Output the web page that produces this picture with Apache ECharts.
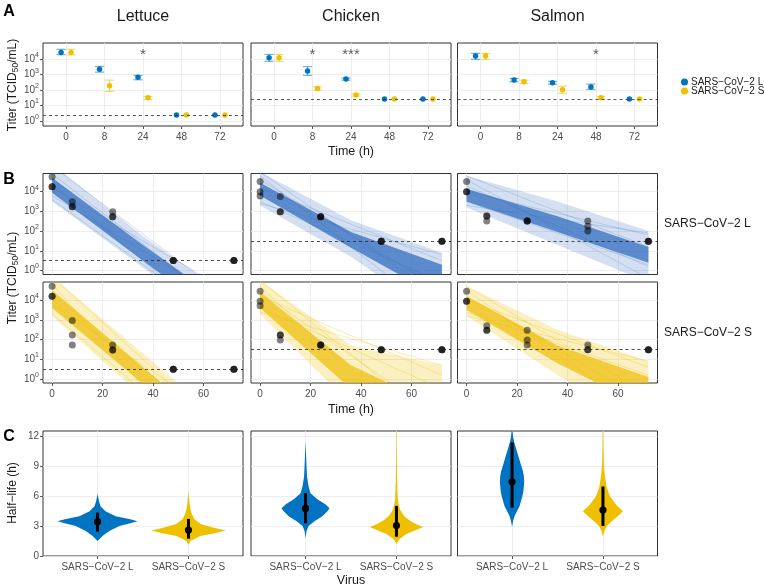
<!DOCTYPE html>
<html><head><meta charset="utf-8">
<script src="https://cdn.jsdelivr.net/npm/echarts@6/dist/echarts.min.js"></script>
<style>html,body{margin:0;padding:0;background:#fff}#c{width:764px;height:588px}</style>
</head><body><div id="c"></div>
<script>
const FONT = 'Liberation Sans, Arial, Helvetica, sans-serif';
const foods = ['Lettuce', 'Chicken', 'Salmon'];
const variants = ['SARS−CoV−2 L', 'SARS−CoV−2 S'];
const timeCats = ['0', '8', '24', '48', '72'];
const logTicks = [0, 1, 2, 3, 4];
const bXTicks = [0, 20, 40, 60];
const cYTicks = [0, 3, 6, 9, 12];

// ---------- Panel A: mean log10 titer with error limits ----------
const aLettuceL_mean = [4.44, 3.34, 2.82, 0.37, 0.37];
const aLettuceL_lo   = [4.29, 3.16, 2.66, 0.37, 0.37];
const aLettuceL_hi   = [4.64, 3.53, 2.95, 0.37, 0.37];
const aLettuceS_mean = [4.44, 2.27, 1.49, 0.37, 0.37];
const aLettuceS_lo   = [4.27, 1.91, 1.39, 0.37, 0.37];
const aLettuceS_hi   = [4.64, 2.64, 1.58, 0.37, 0.37];
const aChickenL_mean = [4.09, 3.23, 2.71, 1.41, 1.41];
const aChickenL_lo   = [3.86, 2.95, 2.64, 1.41, 1.41];
const aChickenL_hi   = [4.31, 3.51, 2.78, 1.41, 1.41];
const aChickenS_mean = [4.09, 2.10, 1.67, 1.41, 1.41];
const aChickenS_lo   = [3.86, 1.99, 1.60, 1.41, 1.41];
const aChickenS_hi   = [4.31, 2.21, 1.74, 1.41, 1.41];
const aSalmonL_mean  = [4.20, 2.64, 2.47, 2.19, 1.41];
const aSalmonL_lo    = [3.99, 2.53, 2.38, 2.04, 1.41];
const aSalmonL_hi    = [4.38, 2.75, 2.56, 2.38, 1.41];
const aSalmonS_mean  = [4.20, 2.53, 2.01, 1.49, 1.41];
const aSalmonS_lo    = [3.99, 2.43, 1.78, 1.42, 1.41];
const aSalmonS_hi    = [4.38, 2.64, 2.25, 1.58, 1.41];
const aLOD = [0.37, 1.41, 1.41];
const aStarsLettuce = [[2, '*']];
const aStarsChicken = [[1, '*'], [2, '***']];
const aStarsSalmon  = [[3, '*']];

// ---------- Panel B: observed replicate titers (log10) ----------
const bTimes = [0, 0, 0, 8, 8, 8, 24, 24, 24, 48, 48, 48, 72, 72, 72];
const bLettuceL = [4.76, 4.25, 4.25, 3.49, 3.24, 3.24, 2.98, 2.73, 2.73, 0.51, 0.51, 0.51, 0.51, 0.51, 0.51];
const bLettuceS = [4.70, 4.20, 4.20, 2.97, 2.23, 1.73, 1.73, 1.47, 1.47, 0.50, 0.50, 0.50, 0.50, 0.50, 0.50];
const bChickenL = [4.51, 4.00, 3.78, 3.75, 2.98, 2.98, 2.73, 2.73, 2.73, 1.49, 1.49, 1.49, 1.49, 1.49, 1.49];
const bChickenS = [4.45, 3.95, 3.72, 2.23, 2.23, 1.98, 1.73, 1.73, 1.73, 1.48, 1.48, 1.48, 1.48, 1.48, 1.48];
const bSalmonL  = [4.51, 4.00, 4.00, 2.76, 2.76, 2.51, 2.51, 2.51, 2.51, 2.51, 2.25, 2.00, 1.49, 1.49, 1.49];
const bSalmonS  = [4.45, 3.95, 3.95, 2.70, 2.47, 2.47, 2.47, 1.98, 1.73, 1.73, 1.48, 1.48, 1.48, 1.48, 1.48];
const bLOD = [0.5, 1.49, 1.49];
// fitted decay fans: envelope (outer) and dense core, at times bandTimes
const bandTimes = [0, 36, 72];
const fanLettuceL = { outerLo: [3.5, 0.15, -3.4], outerHi: [5.4, 1.75, -1.5], coreLo: [3.95, 0.5, -2.9], coreHi: [4.7, 1.3, -2.0] };
const fanChickenL = { outerLo: [3.3, 0.7, -2.5], outerHi: [5.0, 2.55, 0.9], coreLo: [3.8, 1.15, -1.4], coreHi: [4.45, 1.95, 0.3] };
const fanSalmonL  = { outerLo: [3.2, 1.3, -0.6], outerHi: [4.8, 3.5, 2.0], coreLo: [3.5, 1.95, 0.4], coreHi: [4.15, 2.75, 1.2] };
const fanLettuceS = { outerLo: [3.2, -0.9, -5.0], outerHi: [5.2, 1.3, -2.6], coreLo: [3.6, -0.25, -4.1], coreHi: [4.5, 0.6, -3.3] };
const fanChickenS = { outerLo: [3.3, -1.3, -4.5], outerHi: [5.0, 1.7, 0.7], coreLo: [3.6, -0.5, -3.2], coreHi: [4.4, 0.7, -1.5] };
const fanSalmonS  = { outerLo: [3.2, 0.2, -2.5], outerHi: [4.7, 2.5, 0.9], coreLo: [3.5, 0.8, -1.5], coreHi: [4.2, 1.7, 0.1] };
// a few individual posterior draws visible at the fan edges: [log titer at t=0, at t=72]
const drawsLettuceL = [[5.3, -1.6], [3.6, -3.0], [4.9, -2.2], [3.8, -1.8], [4.4, -3.4], [4.2, -1.2]];
const drawsChickenL = [[5.0, -1.4], [3.4, 0.8], [4.8, -2.4], [3.5, -0.6], [4.2, 0.5], [4.6, -1.0]];
const drawsSalmonL  = [[4.8, 1.2], [3.3, 1.9], [4.6, -0.4], [3.5, 0.3], [4.0, 1.8], [4.3, 0.2]];
const drawsLettuceS = [[5.2, -3.2], [3.3, -4.5], [4.8, -5.5], [3.8, -2.4], [4.4, -4.0], [4.0, -3.0]];
const drawsChickenS = [[5.0, -2.5], [3.4, 0.7], [4.7, -4.0], [3.6, -0.5], [4.2, 0.2], [4.4, -2.0]];
const drawsSalmonS  = [[4.7, -0.8], [3.2, 0.9], [4.5, -2.0], [3.4, 0.2], [4.0, 0.6], [4.2, -1.2]];

// ---------- Panel C: half-life posterior densities ----------
const vLettuceL_y = [1.5, 2.0, 2.5, 3.0, 3.3, 3.5, 3.7, 4.0, 4.5, 5.0, 5.5, 6.0, 6.3];
const vLettuceL_w = [0, 0.054, 0.13, 0.24, 0.36, 0.44, 0.36, 0.2, 0.087, 0.033, 0.016, 0.005, 0];
const vLettuceS_y = [1.1, 1.5, 2.0, 2.3, 2.55, 2.8, 3.2, 3.7, 4.3, 5.0, 6.0, 6.5];
const vLettuceS_w = [0, 0.022, 0.13, 0.30, 0.41, 0.29, 0.14, 0.065, 0.033, 0.016, 0.005, 0];
const vChickenL_y = [1.8, 2.5, 3.0, 3.5, 4.0, 4.5, 4.8, 5.2, 5.7, 6.3, 7.0, 8.0, 9.0, 10.0, 11.5];
const vChickenL_w = [0, 0.011, 0.033, 0.098, 0.185, 0.24, 0.264, 0.217, 0.13, 0.054, 0.033, 0.016, 0.011, 0.0065, 0];
const vChickenS_y = [1.2, 1.7, 2.2, 2.6, 2.9, 3.2, 3.6, 4.0, 4.6, 5.2, 6.0, 7.5, 9.0, 11.0, 12.5];
const vChickenS_w = [0, 0.033, 0.109, 0.217, 0.293, 0.217, 0.141, 0.087, 0.043, 0.022, 0.013, 0.0076, 0.0054, 0.0033, 0.002];
const vSalmonL_y = [2.9, 3.5, 4.0, 4.5, 5.0, 5.5, 6.0, 6.5, 7.0, 7.5, 8.0, 8.5, 9.0, 9.5, 10.0, 10.5, 11.0, 11.5, 12.0, 12.6];
const vSalmonL_w = [0, 0.011, 0.027, 0.054, 0.082, 0.098, 0.114, 0.125, 0.130, 0.134, 0.130, 0.120, 0.103, 0.087, 0.071, 0.054, 0.038, 0.022, 0.011, 0.005];
const vSalmonS_y = [1.9, 2.5, 3.0, 3.5, 4.0, 4.5, 5.1, 6.0, 7.0, 8.0, 9.0, 10.0, 11.0, 12.6];
const vSalmonS_w = [0, 0.016, 0.043, 0.098, 0.163, 0.221, 0.15, 0.076, 0.038, 0.022, 0.011, 0.0076, 0.0054, 0.0033];
// median and 95% interval of half-life
const hlMedian = { Lettuce: [3.45, 2.60], Chicken: [4.78, 3.05], Salmon: [7.45, 4.62] };
const hlLow    = { Lettuce: [2.45, 1.74], Chicken: [3.29, 1.94], Salmon: [4.85, 3.02] };
const hlHigh   = { Lettuce: [4.36, 3.72], Chicken: [6.31, 5.03], Salmon: [11.4, 6.97] };

// ---------- styling / layout ----------
const BLUE = '#0073C2', YEL = '#EFC000';
const colLeft = [43, 251, 457.5], colW = 200;
const aTop = 43, aH = 83, aYMin = -0.34, aYMax = 5.05;
const bTop = [173.5, 282], bH = 101, bYMin = -0.2, bYMax = 4.92;
const cTop = 431, cH = 125;
const dodge = 0.13;

const grids = [], xAxes = [], yAxes = [], series = [];
const labelBase = { color: '#4d4d4d', fontSize: 10, fontFamily: FONT };
const powRich = {
  b: { fontSize: 10, color: '#4d4d4d', fontFamily: FONT },
  s: { fontSize: 7, color: '#4d4d4d', fontFamily: FONT, padding: [0, 0, 8, 0] }
};
function addGrid(l, t, w, h) {
  grids.push({ left: l, top: t, width: w, height: h, show: true, borderColor: '#333', borderWidth: 1, outerBoundsMode: 'none', containLabel: false });
  return grids.length - 1;
}
function axisCfg(gi, min, max, ticks, fmt, showLabels, rich, margin) {
  const lab = { show: showLabels, customValues: ticks, formatter: fmt, margin: margin || 4, ...labelBase };
  if (rich) lab.rich = rich;
  return {
    type: 'value', gridIndex: gi, min: min, max: max,
    axisLine: { show: false, onZero: false },
    axisTick: { show: showLabels, length: 3, lineStyle: { color: '#333', width: 0.8 }, customValues: ticks },
    axisLabel: lab,
    splitLine: { show: true, lineStyle: { color: '#e8e8e8', width: 0.8 } },
    minorSplitLine: { show: false }
  };
}
const powFmt = v => '{b|10}{s|' + v + '}';

// ---------- Panel A ----------
const aData = [
  [[aLettuceL_mean, aLettuceL_lo, aLettuceL_hi], [aLettuceS_mean, aLettuceS_lo, aLettuceS_hi]],
  [[aChickenL_mean, aChickenL_lo, aChickenL_hi], [aChickenS_mean, aChickenS_lo, aChickenS_hi]],
  [[aSalmonL_mean, aSalmonL_lo, aSalmonL_hi], [aSalmonS_mean, aSalmonS_lo, aSalmonS_hi]]
];
const aStars = [aStarsLettuce, aStarsChicken, aStarsSalmon];
function renderErr(params, api) {
  const x = api.value(0), lo = api.value(1), hi = api.value(2);
  if (hi - lo < 1e-6) return null;
  const pLo = api.coord([x, lo]), pHi = api.coord([x, hi]);
  const hw = 4.6;
  const style = { stroke: api.visual('color'), lineWidth: 1.1, opacity: 0.6 };
  return { type: 'group', children: [
    { type: 'line', shape: { x1: pLo[0], y1: pLo[1], x2: pHi[0], y2: pHi[1] }, style: style },
    { type: 'line', shape: { x1: pLo[0] - hw, y1: pLo[1], x2: pLo[0] + hw, y2: pLo[1] }, style: style },
    { type: 'line', shape: { x1: pHi[0] - hw, y1: pHi[1], x2: pHi[0] + hw, y2: pHi[1] }, style: style }
  ]};
}
foods.forEach((f, fi) => {
  const gi = addGrid(colLeft[fi], aTop, colW, aH);
  xAxes.push(axisCfg(gi, -0.6, 4.6, [0, 1, 2, 3, 4], v => timeCats[Math.round(v)], true, null, 6));
  yAxes.push(axisCfg(gi, aYMin, aYMax, logTicks, powFmt, fi === 0, powRich, 4));
  [0, 1].forEach(vi => {
    const [m, lo, hi] = aData[fi][vi];
    const off = vi === 0 ? -dodge : dodge;
    const col = vi === 0 ? BLUE : YEL;
    series.push({
      type: 'custom', name: 'err' + fi + vi, xAxisIndex: gi, yAxisIndex: gi, clip: false,
      itemStyle: { color: col }, renderItem: renderErr, encode: { x: 0, y: [1, 2] },
      data: m.map((_, i) => [i + off, lo[i], hi[i]]), z: 2
    });
    series.push({
      type: 'scatter', name: variants[vi], xAxisIndex: gi, yAxisIndex: gi,
      symbol: 'circle', symbolSize: 5.5, itemStyle: { color: col, opacity: 1 },
      data: m.map((v, i) => [i + off, v]), z: 3,
      markLine: vi === 0 ? { silent: true, symbol: 'none', label: { show: false },
        lineStyle: { type: [3, 3], color: '#333', width: 0.8 }, data: [{ yAxis: aLOD[fi] }] } : undefined
    });
  });
  series.push({
    type: 'scatter', name: 'stars' + fi, xAxisIndex: gi, yAxisIndex: gi, symbolSize: 0,
    data: aStars[fi].map(s => ({ value: [s[0], 4.25], label: { formatter: s[1] } })),
    label: { show: true, position: 'inside', color: '#333', fontSize: 15, fontFamily: FONT }, z: 4
  });
});

// ---------- Panel B ----------
const bObs = [[bLettuceL, bChickenL, bSalmonL], [bLettuceS, bChickenS, bSalmonS]];
const bFans = [[fanLettuceL, fanChickenL, fanSalmonL], [fanLettuceS, fanChickenS, fanSalmonS]];
const bDraws = [[drawsLettuceL, drawsChickenL, drawsSalmonL], [drawsLettuceS, drawsChickenS, drawsSalmonS]];
function clipRect(params) {
  const cs = params.coordSys;
  return { type: 'rect', shape: { x: cs.x, y: cs.y, width: cs.width, height: cs.height } };
}
function fanRenderer(lo, hi, fill) {
  return function (params, api) {
    const pts = [];
    bandTimes.forEach((t, i) => pts.push(api.coord([t, lo[i]])));
    for (let i = bandTimes.length - 1; i >= 0; i--) pts.push(api.coord([bandTimes[i], hi[i]]));
    return { type: 'polygon', shape: { points: pts }, style: { fill: fill }, clipPath: clipRect(params) };
  };
}
function drawRenderer(stroke) {
  return function (params, api) {
    const p0 = api.coord([0, api.value(0)]), p1 = api.coord([72, api.value(1)]);
    return { type: 'line', shape: { x1: p0[0], y1: p0[1], x2: p1[0], y2: p1[1] },
      style: { stroke: stroke, lineWidth: 1 }, clipPath: clipRect(params) };
  };
}
[0, 1].forEach(ri => {
  foods.forEach((f, fi) => {
    const gi = addGrid(colLeft[fi], bTop[ri], colW, bH);
    xAxes.push(axisCfg(gi, -3.6, 75.6, bXTicks, v => String(v), ri === 1, null, 6));
    yAxes.push(axisCfg(gi, bYMin, bYMax, logTicks, powFmt, fi === 0, powRich, 4));
    const fan = bFans[ri][fi];
    const outerFill = ri === 0 ? 'rgba(60,115,195,0.22)' : 'rgba(239,192,0,0.24)';
    const coreFill = ri === 0 ? 'rgba(45,105,190,0.72)' : 'rgba(239,190,10,0.72)';
    const drawStroke = ri === 0 ? 'rgba(60,115,195,0.22)' : 'rgba(239,192,0,0.3)';
    series.push({ type: 'custom', name: 'fanO' + gi, xAxisIndex: gi, yAxisIndex: gi, clip: true,
      renderItem: fanRenderer(fan.outerLo, fan.outerHi, outerFill), data: [[0, fan.outerLo[0]]], z: 1, silent: true });
    series.push({ type: 'custom', name: 'draws' + gi, xAxisIndex: gi, yAxisIndex: gi, clip: true,
      renderItem: drawRenderer(drawStroke), data: bDraws[ri][fi], encode: { x: -1, y: [0, 1] }, z: 1, silent: true });
    series.push({ type: 'custom', name: 'fanC' + gi, xAxisIndex: gi, yAxisIndex: gi, clip: true,
      renderItem: fanRenderer(fan.coreLo, fan.coreHi, coreFill), data: [[0, fan.coreLo[0]]], z: 1, silent: true });
    series.push({
      type: 'scatter', name: 'obs' + gi, xAxisIndex: gi, yAxisIndex: gi, symbolSize: 7,
      itemStyle: { color: 'rgba(0,0,0,0.62)' }, z: 3,
      data: bTimes.map((t, i) => [t, bObs[ri][fi][i]]),
      markLine: { silent: true, symbol: 'none', label: { show: false },
        lineStyle: { type: [3, 3], color: '#222', width: 0.8 }, data: [{ yAxis: bLOD[fi] }] }
    });
  });
});

// ---------- Panel C ----------
const vData = {
  Lettuce: [[vLettuceL_y, vLettuceL_w], [vLettuceS_y, vLettuceS_w]],
  Chicken: [[vChickenL_y, vChickenL_w], [vChickenS_y, vChickenS_w]],
  Salmon:  [[vSalmonL_y, vSalmonL_w], [vSalmonS_y, vSalmonS_w]]
};
function violinRenderer(ys, ws, fill, med, lo, hi) {
  return function (params, api) {
    const x0 = api.value(0);
    const pts = [];
    ys.forEach((y, i) => pts.push(api.coord([x0 + ws[i], y])));
    for (let i = ys.length - 1; i >= 0; i--) pts.push(api.coord([x0 - ws[i], ys[i]]));
    const pm = api.coord([x0, med]), pl = api.coord([x0, lo]), ph = api.coord([x0, hi]);
    return { type: 'group', clipPath: clipRect(params), children: [
      { type: 'polygon', shape: { points: pts }, style: { fill: fill } },
      { type: 'line', shape: { x1: pl[0], y1: pl[1], x2: ph[0], y2: ph[1] }, style: { stroke: '#000', lineWidth: 3 } },
      { type: 'circle', shape: { cx: pm[0], cy: pm[1], r: 3.6 }, style: { fill: '#000' } }
    ]};
  };
}
foods.forEach((f, fi) => {
  const gi = addGrid(colLeft[fi], cTop, colW, cH);
  xAxes.push(axisCfg(gi, -0.6, 1.6, [0, 1], v => variants[Math.round(v)], true, null, 6));
  yAxes.push(axisCfg(gi, 0, 12.55, cYTicks, v => String(v), fi === 0, null, 4));
  [0, 1].forEach(vi => {
    const [ys, ws] = vData[f][vi];
    series.push({ type: 'custom', name: 'vio' + gi + vi, xAxisIndex: gi, yAxisIndex: gi, clip: true, silent: true,
      renderItem: violinRenderer(ys, ws, vi === 0 ? BLUE : YEL, hlMedian[f][vi], hlLow[f][vi], hlHigh[f][vi]),
      data: [[vi, hlMedian[f][vi]]], z: 2 });
  });
});

// ---------- titles / text ----------
function txt(x, y, text, size, opts) {
  return Object.assign({ type: 'text', x: x, y: y, silent: true,
    style: Object.assign({ text: text, fontSize: size, fontFamily: FONT, fill: '#1a1a1a', align: 'center', verticalAlign: 'middle' }, (opts && opts.style) || {}) },
    opts && opts.rotation !== undefined ? { rotation: opts.rotation } : {});
}
const titerRich = { a: { fontSize: 12, fontFamily: FONT, fill: '#1a1a1a' }, s: { fontSize: 8.5, fontFamily: FONT, fill: '#1a1a1a', padding: [6, 0, 0, 0] } };
const graphics = [
  txt(9, 12, 'A', 16, { style: { fontWeight: 'bold', fill: '#000' } }),
  txt(9, 180, 'B', 16, { style: { fontWeight: 'bold', fill: '#000' } }),
  txt(9, 437, 'C', 16, { style: { fontWeight: 'bold', fill: '#000' } }),
  txt(colLeft[0] + colW / 2, 17, foods[0], 16),
  txt(colLeft[1] + colW / 2, 17, foods[1], 16),
  txt(colLeft[2] + colW / 2, 17, foods[2], 16),
  txt(351, 152, 'Time (h)', 12.5),
  txt(351, 410, 'Time (h)', 12.5),
  txt(351, 581, 'Virus', 12.5),
  txt(664, 224, variants[0], 12, { style: { align: 'left' } }),
  txt(664, 333, variants[1], 12, { style: { align: 'left' } }),
  { type: 'text', x: 13, y: 85, rotation: Math.PI / 2, silent: true,
    style: { text: '{a|Titer (TCID}{s|50}{a|/mL)}', rich: titerRich, align: 'center', verticalAlign: 'middle' } },
  { type: 'text', x: 13, y: 278, rotation: Math.PI / 2, silent: true,
    style: { text: '{a|Titer (TCID}{s|50}{a|/mL)}', rich: titerRich, align: 'center', verticalAlign: 'middle' } },
  txt(13, 493, 'Half−life (h)', 12, { rotation: Math.PI / 2 })
];

const chart = echarts.init(document.getElementById('c'), null, { renderer: 'canvas' });
chart.setOption({
  animation: false,
  backgroundColor: '#fff',
  textStyle: { fontFamily: FONT },
  grid: grids, xAxis: xAxes, yAxis: yAxes, series: series,
  legend: {
    data: variants, orient: 'vertical', left: 676, top: 72, itemGap: -1,
    itemWidth: 7, itemHeight: 7, icon: 'circle', selectedMode: false,
    textStyle: { fontSize: 10, color: '#1a1a1a', fontFamily: FONT, padding: [0, 0, 0, -2] }
  },
  graphic: graphics
});
</script>
</body></html>
